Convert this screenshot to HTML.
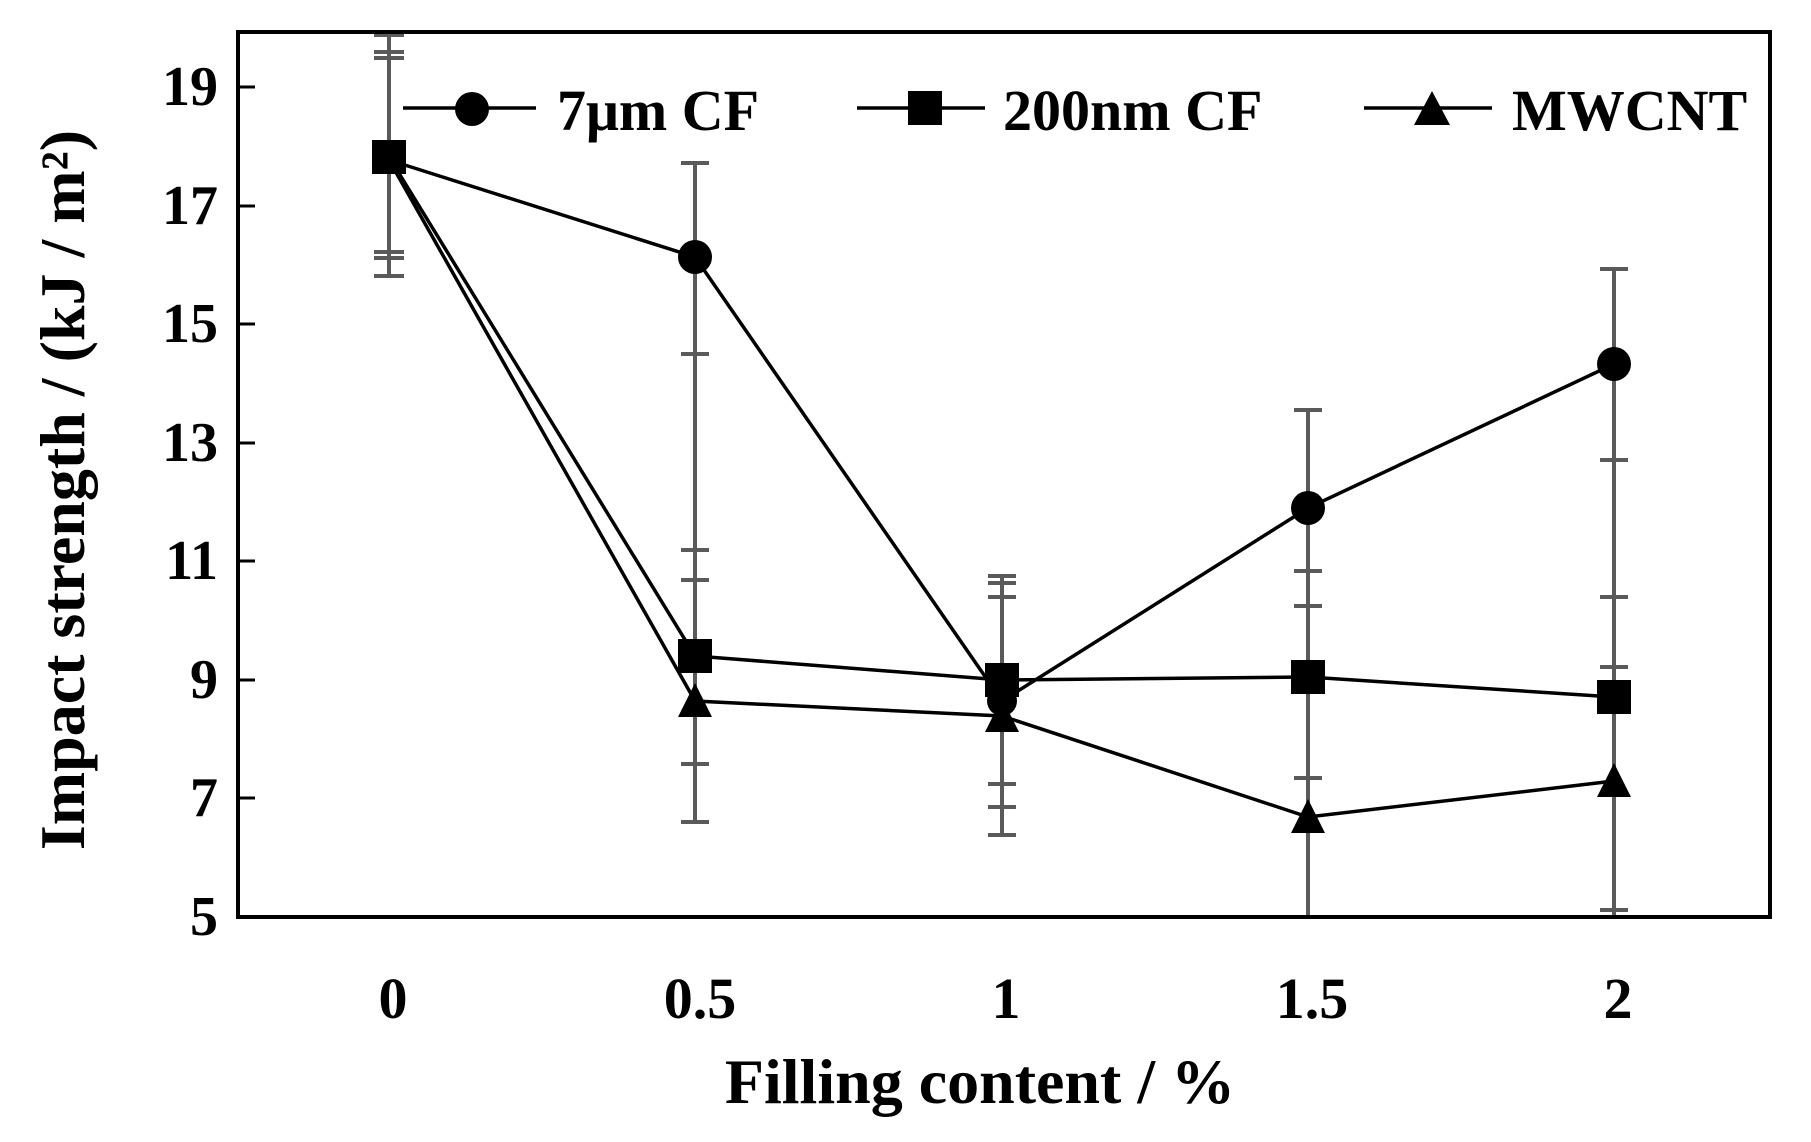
<!DOCTYPE html>
<html><head><meta charset="utf-8"><style>body{margin:0;background:#fff}svg{display:block}text{font-family:"Liberation Serif",serif;font-weight:bold;fill:#000}</style></head><body>
<svg width="1811" height="1142" viewBox="0 0 1811 1142">
<g stroke="#000" stroke-width="3">
<line x1="238" y1="87" x2="255" y2="87"/><line x1="238" y1="206" x2="255" y2="206"/><line x1="238" y1="324" x2="255" y2="324"/><line x1="238" y1="443" x2="255" y2="443"/><line x1="238" y1="561" x2="255" y2="561"/><line x1="238" y1="680" x2="255" y2="680"/><line x1="238" y1="798" x2="255" y2="798"/>
</g>
<g font-size="56" text-anchor="end">
<text x="218" y="105">19</text><text x="218" y="224">17</text><text x="218" y="342">15</text><text x="218" y="461">13</text><text x="218" y="579">11</text><text x="218" y="698">9</text><text x="218" y="816">7</text><text x="218" y="935">5</text>
</g>
<g font-size="58" text-anchor="middle">
<text x="393" y="1018">0</text><text x="700" y="1018">0.5</text><text x="1006" y="1018">1</text><text x="1312" y="1018">1.5</text><text x="1618" y="1018">2</text>
<text x="980" y="1103" font-size="64">Filling  content / %</text>
<text transform="translate(84,490) rotate(-90)" font-size="64">Impact strength / (kJ / m²)</text>
</g>
<g stroke="#5a5a5a" stroke-width="4">
<line x1="389" y1="35" x2="389" y2="277"/><line x1="374" y1="52" x2="404" y2="52"/><line x1="374" y1="58" x2="404" y2="58"/><line x1="374" y1="252" x2="404" y2="252"/><line x1="374" y1="258" x2="404" y2="258"/><line x1="374" y1="276" x2="404" y2="276"/><line x1="374" y1="35" x2="404" y2="35"/>
<line x1="695" y1="162" x2="695" y2="822"/><line x1="681" y1="163" x2="709" y2="163"/><line x1="681" y1="354" x2="709" y2="354"/><line x1="681" y1="550" x2="709" y2="550"/><line x1="681" y1="580" x2="709" y2="580"/><line x1="681" y1="764" x2="709" y2="764"/><line x1="681" y1="822" x2="709" y2="822"/>
<line x1="1002" y1="575" x2="1002" y2="837"/><line x1="988" y1="576" x2="1016" y2="576"/><line x1="988" y1="583" x2="1016" y2="583"/><line x1="988" y1="597" x2="1016" y2="597"/><line x1="988" y1="784" x2="1016" y2="784"/><line x1="988" y1="807" x2="1016" y2="807"/><line x1="988" y1="835" x2="1016" y2="835"/>
<line x1="1308" y1="409" x2="1308" y2="917"/><line x1="1294" y1="410" x2="1322" y2="410"/><line x1="1294" y1="571" x2="1322" y2="571"/><line x1="1294" y1="606" x2="1322" y2="606"/><line x1="1294" y1="778" x2="1322" y2="778"/>
<line x1="1614" y1="268" x2="1614" y2="917"/><line x1="1600" y1="269" x2="1628" y2="269"/><line x1="1600" y1="460" x2="1628" y2="460"/><line x1="1600" y1="597" x2="1628" y2="597"/><line x1="1600" y1="667" x2="1628" y2="667"/><line x1="1600" y1="910" x2="1628" y2="910"/>
</g>
<g fill="none" stroke="#000" stroke-width="3.5">
<polyline points="389,160 695,257 1002,701 1308,508 1614,364"/>
<polyline points="389,157 695,656 1002,680 1308,677 1614,697"/>
<polyline points="389,160 695,701 1002,716 1308,817 1614,781"/>
</g>
<g fill="#000">
<circle cx="695" cy="257" r="17"/><circle cx="1308" cy="508" r="17"/><circle cx="1614" cy="364" r="17"/><circle cx="1002" cy="701" r="15"/>
<rect x="372" y="140" width="34" height="34"/><rect x="678" y="639" width="34" height="34"/><rect x="985" y="663" width="34" height="34"/><rect x="1291" y="660" width="34" height="34"/><rect x="1597" y="680" width="34" height="34"/>
<polygon points="695,683 678,717 712,717"/><polygon points="1002,698 985,732 1019,732"/><polygon points="1308,799 1291,833 1325,833"/><polygon points="1614,763 1597,797 1631,797"/>
</g>
<rect x="238" y="32" width="1532" height="885" fill="none" stroke="#000" stroke-width="4"/>
<g stroke="#000" stroke-width="3.5"><line x1="403" y1="108" x2="536" y2="108"/><line x1="857" y1="108" x2="985" y2="108"/><line x1="1364" y1="108" x2="1492" y2="108"/></g>
<circle cx="472" cy="109" r="17"/><rect x="908" y="91" width="34" height="34"/><polygon points="1432,91 1414,125 1450,125"/>
<g font-size="58"><text x="557" y="130">7μm CF</text><text x="1003" y="130">200nm CF</text><text x="1512" y="130">MWCNT</text></g>
</svg>
</body></html>
